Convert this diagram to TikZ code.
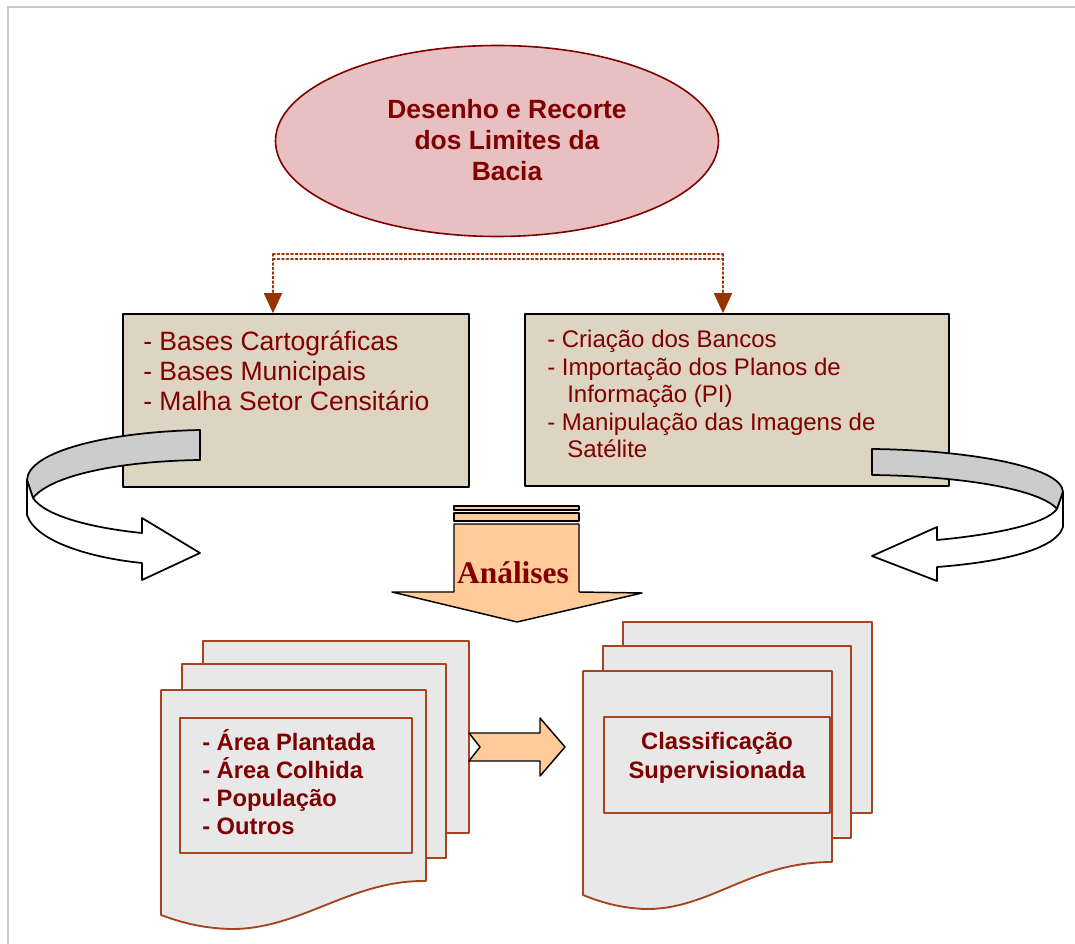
\documentclass[tikz,border=0pt]{standalone}
\usepackage{fontspec}
\setmainfont{Liberation Serif}
\setsansfont{Liberation Sans}
\usetikzlibrary{arrows.meta,shapes.geometric,positioning}
\definecolor{bordo}{RGB}{128,0,0}
\definecolor{rosa}{RGB}{232,192,194}
\definecolor{linho}{RGB}{221,212,194}
\definecolor{pessego}{RGB}{255,204,153}
\definecolor{telha}{RGB}{153,51,0}
\definecolor{folha}{RGB}{232,232,232}
\definecolor{folhaborda}{RGB}{165,68,30}
\definecolor{fita}{RGB}{204,204,204}
\definecolor{moldura}{RGB}{200,200,200}
\begin{document}
\begin{tikzpicture}[x=0.75pt,y=-0.75pt,line cap=round,line join=round,
  linen/.style={draw=black,fill=linho,line width=1.2pt,inner sep=0pt},
  sheet/.style={draw=folhaborda,fill=folha,line width=1.4pt},
  ribbon/.style={draw=black,line width=1.3pt},
  peach/.style={draw=black,fill=pessego,line width=1.1pt},
  dotlink/.style={draw=telha,dotted,line width=1.4pt},
  txt/.style={text=bordo,inner sep=0pt,font=\sffamily}]
  \def\px{0.75pt}
  \useasboundingbox (0,0) rectangle (1075,944);
  % moldura
  \draw[moldura,line width=1.5pt] (8,944) -- (8,7) -- (1075,7);

  % elipse
  \node[ellipse,draw=bordo,fill=rosa,line width=1.2pt,
        minimum width=443*\px,minimum height=191*\px] (bacia) at (497,141) {};
  \node[txt,align=center,font=\sffamily\bfseries\fontsize{19.8}{23}\selectfont]
        at (507,140) {Desenho e Recorte\\dos Limites da\\Bacia};

  % caixas
  \node[linen,minimum width=346*\px,minimum height=173*\px] (bases) at (296,400.5) {};
  \node[linen,minimum width=424*\px,minimum height=172*\px] (bancos) at (737,400) {};
  \node[txt,anchor=north west,align=left,font=\sffamily\fontsize{19.9}{22.5}\selectfont]
        at (143,331) {- Bases Cartográficas\\- Bases Municipais\\- Malha Setor Censitário};
  \node[txt,anchor=north west,align=left,font=\sffamily\fontsize{18}{20.6}\selectfont]
        at (547,330) {- Criação dos Bancos\\- Importação dos Planos de\\
        \hspace*{15pt}Informação (PI)\\- Manipulação das Imagens de\\\hspace*{15pt}Satélite};

  % ligacao pontilhada
  \coordinate (dl) at (273,254);
  \coordinate (dr) at (723,254);
  \draw[dotlink] (dl) -- (dr);
  \draw[dotlink] ([yshift=-5*\px]dl) -- ([yshift=-5*\px]dr);
  \draw[dotlink,-{Triangle[length=15pt,width=13.5pt]}] (dl) -- (dl |- bases.north);
  \draw[dotlink,-{Triangle[length=15pt,width=13.5pt]}] (dr) -- (dr |- bancos.north);

  % fitas curvas
  \draw[ribbon,fill=fita] (200,430) .. controls (105,432) and (28,452) .. (27,480)
    -- (33,498) .. controls (52,474) and (125,461) .. (200,460) -- cycle;
  \draw[ribbon,fill=white] (27,480) -- (27,515) .. controls (36,542) and (92,558) .. (142,563)
    -- (142,580) -- (200,553) -- (142,518) -- (142,533)
    .. controls (92,528) and (45,516) .. (33,498) -- cycle;
  \draw[ribbon,fill=fita] (872,449) .. controls (965,450) and (1062,466) .. (1063,492)
    -- (1057,509) .. controls (1040,489) and (960,476) .. (872,475) -- cycle;
  \draw[ribbon,fill=white] (1063,492) -- (1063,527) .. controls (1055,552) and (990,563) .. (937,567)
    -- (937,581) -- (872,556) -- (937,527) -- (937,540)
    .. controls (990,535) and (1045,525) .. (1057,509) -- cycle;

  % seta Analises
  \draw[peach] (454,506) rectangle (579,510);
  \draw[peach] (454,513) rectangle (579,521);
  \draw[peach] (454,524) -- (579,524) -- (579,592) -- (642,593) -- (517,622)
    -- (392,592) -- (454,592) -- cycle;
  \node[text=bordo,inner sep=0pt,anchor=base,font=\bfseries\fontsize{23.6}{26}\selectfont]
        (analises) at (513,584) {Análises};

  % pilha esquerda
  \draw[sheet] (203,641) rectangle (469,833);
  \draw[sheet] (182,664) rectangle (446,858);
  \draw[sheet] (161,690) -- (426,690) -- (426,881)
    .. controls (350,880) and (300,930) .. (230,929)
    .. controls (200,928) and (180,922) .. (161,915) -- cycle;
  \node[draw=folhaborda,line width=1.4pt,minimum width=232*\px,minimum height=135*\px]
        (dados) at (296,785.5) {};
  \node[txt,anchor=north west,align=left,font=\sffamily\bfseries\fontsize{17.8}{21}\selectfont]
        at (202,729) {- Área Plantada\\- Área Colhida\\- População\\- Outros};

  % seta entre pilhas
  \draw[peach] (469,733) -- (540,733) -- (540,718) -- (565,747) -- (540,776)
    -- (540,761) -- (469,761) -- (480,747) -- cycle;

  % pilha direita
  \draw[sheet] (623,622) rectangle (872,813);
  \draw[sheet] (603,646) rectangle (851,838);
  \draw[sheet] (583,671) -- (832,671) -- (832,862)
    .. controls (750,862) and (710,910) .. (645,909)
    .. controls (620,908) and (600,902) .. (583,895) -- cycle;
  \node[draw=folhaborda,line width=1.4pt,minimum width=226*\px,minimum height=96*\px]
        (classe) at (717,765) {};
  \node[txt,align=center,font=\sffamily\bfseries\fontsize{17.8}{21.75}\selectfont]
        at (717,758) {Classificação\\Supervisionada};
\end{tikzpicture}
\end{document}
